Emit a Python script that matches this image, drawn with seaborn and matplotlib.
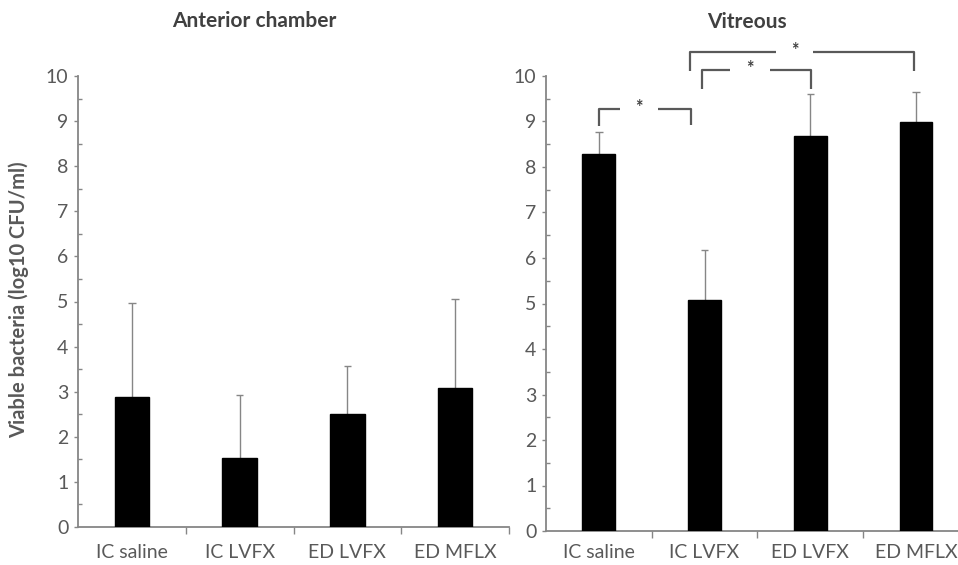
import matplotlib
matplotlib.use("Agg")
import matplotlib.pyplot as plt
import seaborn as sns
import pandas as pd
import numpy as np
from matplotlib.ticker import FixedLocator

sns.set_theme(style="white")
plt.rcParams['font.family'] = ['Lato', 'DejaVu Sans']

groups = ["IC saline", "IC LVFX", "ED LVFX", "ED MFLX"]
ac_mean = [2.88, 1.54, 2.51, 3.08]
ac_sd = [2.08, 1.39, 1.06, 1.98]
vit_mean = [8.29, 5.08, 8.68, 8.98]
vit_sd = [0.48, 1.10, 0.92, 0.66]

# significance brackets (vitreous panel)
br_x1 = [0.0, 0.98, 0.86]
br_x2 = [0.87, 2.01, 2.98]
br_y = [9.28, 10.14, 10.53]
br_y1 = [8.90, 9.71, 10.10]
br_y2 = [8.93, 9.71, 10.10]
br_gap = [(0.20, 0.56), (0.26, 0.64), (0.82, 1.17)]
br_label = ["*", "*", "*"]

gray = "#595959"
axc = "#868686"

fig = plt.figure(figsize=(9.58, 5.65), dpi=100)
W, H = 958, 565
ax1 = fig.add_axes([78 / W, (H - 527) / H, 431 / W, 451 / H])
ax2 = fig.add_axes([546 / W, (H - 531) / H, 412 / W, 455 / H])


def panel(ax, means, sds, width, xmax, xpad):
    df = pd.DataFrame({"group": groups, "value": means})
    sns.barplot(data=df, x="group", y="value", ax=ax, color="black",
                saturation=1, width=width, errorbar=None, edgecolor="black",
                zorder=3)
    x = np.arange(len(groups))
    tops = np.array(means) + np.array(sds)
    ax.vlines(x, means, tops, color=axc, lw=1.0, zorder=2)
    ax.hlines(tops, x - 0.035, x + 0.035, color=axc, lw=1.0, zorder=2)
    ax.set_ylim(0, 10)
    ax.set_xlim(-0.5, xmax)
    ax.set_yticks(range(0, 11))
    ax.yaxis.set_minor_locator(FixedLocator(np.arange(0.5, 10, 1.0)))
    ax.xaxis.set_minor_locator(FixedLocator([0.5, 1.5, 2.5, 3.5]))
    ax.tick_params(axis="y", which="major", length=3, width=1, color=axc,
                   labelsize=14, labelcolor=gray, direction="out", left=True, pad=4)
    ax.tick_params(axis="y", which="minor", length=3, width=1, color=axc,
                   direction="in", left=True)
    ax.tick_params(axis="x", which="major", length=0, labelsize=14,
                   labelcolor=gray, pad=xpad)
    ax.tick_params(axis="x", which="minor", length=5, width=1, color=axc,
                   direction="out", bottom=True)
    for s in ["top", "right"]:
        ax.spines[s].set_visible(False)
    for s in ["left", "bottom"]:
        ax.spines[s].set_color(axc)
        ax.spines[s].set_linewidth(1.3)
    ax.set_xlabel("")
    ax.set_ylabel("")


panel(ax1, ac_mean, ac_sd, 0.32, 3.5, 12)
panel(ax2, vit_mean, vit_sd, 0.31, 3.398, 9)

fig.text(254 / W, 1 - 21 / H, "Anterior chamber", ha="center", va="center",
         fontsize=15, fontweight="bold", color="#404040")
fig.text(747 / W, 1 - 22 / H, "Vitreous", ha="center", va="center",
         fontsize=15, fontweight="bold", color="#404040")

fig.text(19 / W, 1 - 300 / H, "Viable bacteria (log10 CFU/ml)", rotation=90,
         ha="center", va="center", fontsize=14.5, fontweight="bold", color=gray)

for i in range(len(br_x1)):
    x1, x2, y, y1, y2 = br_x1[i], br_x2[i], br_y[i], br_y1[i], br_y2[i]
    g0, g1 = br_gap[i]
    kw = dict(color=gray, lw=1.6, clip_on=False, solid_capstyle="butt")
    ax2.plot([x1, x1, x1 + g0], [y1, y, y], **kw)
    ax2.plot([x1 + g1, x2, x2], [y, y, y2], **kw)
    ax2.text(x1 + (g0 + g1) / 2, y + 0.02, br_label[i],
             ha="center", va="center", fontsize=13, fontweight="bold",
             color="#404040", clip_on=False)

fig.savefig("out.png", dpi=100)
